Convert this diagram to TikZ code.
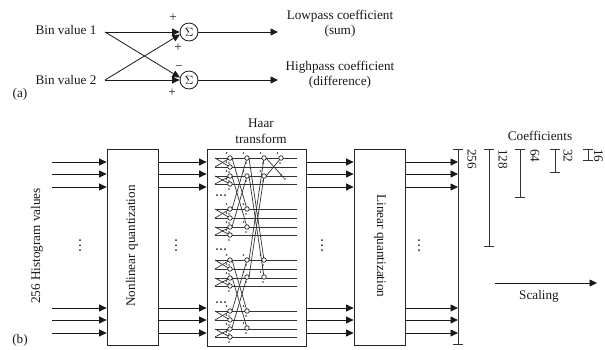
\documentclass[tikz,border=0pt]{standalone}
\usepackage{fontspec}
\setmainfont{Liberation Serif}
\usetikzlibrary{arrows.meta}
\tikzset{
  flow/.style={-{Triangle[length=7.5pt,width=7pt]},line width=.8pt,black!90},
  wire/.style={black!80,line width=.7pt},
  sumnode/.style={circle,draw=black!90,fill=white,line width=.8pt,inner sep=0pt,minimum size=18pt,font=\fontsize{12}{13}\selectfont},
  block/.style={draw=black!85,line width=.8pt,fill=white},
  bar/.style={{|[width=10pt]}-{|[width=10pt]},black!80,line width=.7pt},
  lbl/.style={font=\fontsize{13.2}{14}\selectfont,text=black!90,inner sep=0pt},
  fsum/.style={circle,draw=black!85,fill=white,line width=.7pt,inner sep=0pt,minimum size=4.5pt},
  sdot/.style={circle,fill=black!85,inner sep=0pt,minimum size=2pt},
  tdot/.style={circle,fill=black!80,inner sep=0pt,minimum size=1.6pt},
}
\newcommand{\haarnode}[2]{
  \node[fsum] at (#1,#2) {};
  \node[tdot] at (#1-3.5,#2-5) {};
  \node[tdot] at (#1-1,#2+5) {};
}
\begin{document}
\begin{tikzpicture}[x=1pt,y=-1pt]
  \useasboundingbox (0,0) rectangle (605,349);
  % part (a)
  \node[lbl] (bina) at (66,30) {Bin value 1};
  \node[lbl] (binb) at (66,80) {Bin value 2};
  \node[sumnode] (suma) at (189,32) {$\Sigma$};
  \node[sumnode] (sumb) at (189,80) {$\Sigma$};
  \coordinate (ina) at (105,32);
  \coordinate (inb) at (105,80);
  \coordinate (outa) at (278,32);
  \coordinate (outb) at (278,80);
  \draw[flow] (ina) -- (suma.west);
  \draw[flow] (ina) -- (sumb.165);
  \draw[flow] (inb) -- (suma.195);
  \draw[flow] (inb) -- (sumb.west);
  \draw[flow] (suma) -- (outa);
  \draw[flow] (sumb) -- (outb);
  \node[lbl] at (173,18) {+};
  \node[lbl] at (178,48) {+};
  \node[lbl] at (179,68) {−};
  \node[lbl] at (172,93) {+};
  \node[lbl] at (340,16) {Lowpass coefficient};
  \node[lbl] at (340,31) {(sum)};
  \node[lbl] at (340,67) {Highpass coefficient};
  \node[lbl] at (340,82) {(difference)};
  \node[lbl] at (20,94) {(a)};
  % part (b)
  \node[block,minimum width=51pt,minimum height=196pt] (nonlin) at (132.5,247) {};
  \node[block,minimum width=99pt,minimum height=197pt] (haar) at (256.5,247.5) {};
  \node[block,minimum width=51pt,minimum height=196pt] (lin) at (379.5,247) {};
  \node[lbl,rotate=90] at (132,246) {Nonlinear quantization};
  \node[lbl,rotate=-90] at (380,246) {Linear quantization};
  \node[lbl] at (261,123) {Haar};
  \node[lbl] at (261,139) {transform};
  \foreach \y in {162,174,187,308,320,333} {
    \coordinate (s\y) at (52,\y);
    \coordinate (g\y) at (458,\y);
    \draw[flow] (s\y) -- (nonlin.west |- s\y);
    \draw[flow] (nonlin.east |- s\y) -- (haar.west |- s\y);
    \draw[flow] (haar.east |- s\y) -- (lin.west |- s\y);
    \draw[flow] (lin.east |- s\y) -- (g\y);
  }
  \foreach \x in {80,176,322,419}
    \foreach \y in {240,245,250}
      \node[sdot] at (\x,\y) {};
  \node[lbl,rotate=90] at (37,246) {256 Histogram values};
  \node[lbl] at (20,340) {(b)};
  % haar rows and first stage
  \foreach \y in {158,209,260,311} {
    \foreach \o in {0,9,18,26}
      \draw[wire] (215,\y+\o) -- (297,\y+\o);
    \foreach \o/\p in {0/9,18/26} {
      \draw[wire] (215,\y+\o) -- (230,\y+\p);
      \draw[wire] (215,\y+\p) -- (230,\y+\o);
      \haarnode{230}{\y+\o}
      \haarnode{230}{\y+\p}
    }
  }
  % second stage
  \foreach \y/\z in {158/209,176/227,260/311,277/328} {
    \draw[wire] (232,\y) -- (247,\z);
    \draw[wire] (232,\z) -- (247,\y);
    \haarnode{247}{\y}
    \haarnode{247}{\z}
  }
  % third stage
  \foreach \y/\z in {158/260,176/277} {
    \draw[wire] (249,\y) -- (264,\z);
    \draw[wire] (249,\z) -- (264,\y);
    \haarnode{264}{\y}
    \haarnode{264}{\z}
  }
  % last stage
  \draw[wire] (266,158) -- (284,178);
  \draw[wire] (266,176) -- (281,158);
  \haarnode{281}{158}
  \node[tdot] at (281,175) {};
  \node[tdot] at (285,179) {};
  \foreach \y in {195,249,302}
    \foreach \x in {217,221,225}
      \node[sdot] at (\x,\y) {};
  % scale bars
  \draw[bar] (458,149) -- (458,345);
  \draw[bar] (489,149) -- (489,247);
  \draw[bar] (520,149) -- (520,198);
  \draw[bar] (555,149) -- (555,173);
  \draw[bar] (588,149) -- (588,161);
  \node[lbl,rotate=-90,anchor=west] at (472,149) {256};
  \node[lbl,rotate=-90,anchor=west] at (503,149) {128};
  \node[lbl,rotate=-90,anchor=west] at (535,149) {64};
  \node[lbl,rotate=-90,anchor=west] at (568,149) {32};
  \node[lbl,rotate=-90,anchor=west] at (598.5,149) {16};
  \node[lbl] at (540,136) {Coefficients};
  \coordinate (scl) at (495,283);
  \coordinate (scr) at (597,283);
  \draw[flow] (scl) -- (scr);
  \node[lbl] at (539,296) {Scaling};
\end{tikzpicture}
\end{document}
